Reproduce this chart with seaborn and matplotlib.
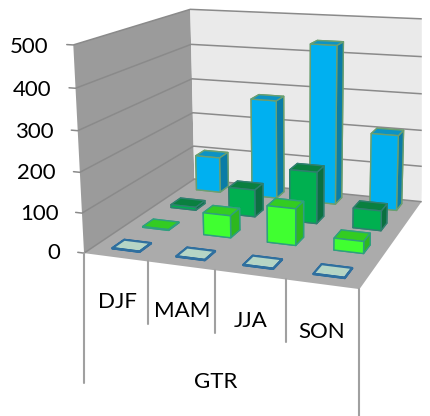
import seaborn as sns
import matplotlib
matplotlib.use("Agg")
import matplotlib.pyplot as plt
from matplotlib.lines import Line2D
from matplotlib.patches import Rectangle
from mpl_toolkits.mplot3d import proj3d
from mpl_toolkits.mplot3d.art3d import Poly3DCollection

seasons = ["DJF", "MAM", "JJA", "SON"]
group_label = "GTR"
value_ticks = [0, 100, 200, 300, 400, 500]
pale_vals = [1, 1, 1, 1]
bright_vals = [2, 57, 93, 30]
dark_vals = [8, 73, 137, 52]
blue_vals = [100, 275, 435, 205]

sns.set_theme(style="white")
plt.rcParams["font.family"] = ["Lato", "DejaVu Sans"]

fig = plt.figure(figsize=(4.30, 4.16), dpi=100)
ax = fig.add_axes([0, 0, 1, 1], projection="3d")

# camera, fitted once against the corners of the box
scale, cx, cy = 2235.2, 263.6, 130.6
ax.view_init(13.96, -69.82, 0.43)
ax.set_proj_type("persp", focal_length=0.470)
ax.set_box_aspect((1.351, 1.301, 1))
vl = ax.viewLim
side = scale * vl.width
ax.set_position([(cx + scale * vl.x0) / 430, 1 - (cy - scale * vl.y0) / 416, side / 430, side / 416])
ax.set_axis_off()
ax.patch.set_alpha(0)
ax.computed_zorder = False

def set_lims():
    ax.set_xlim(0, 4)
    ax.set_ylim(0, 4)
    ax.set_zlim(0, 500)

set_lims()

walls = [
    ([(0, 0, 0), (0, 4, 0), (0, 4, 500), (0, 0, 500)], "#9B9B9B"),
    ([(0, 4, 0), (4, 4, 0), (4, 4, 500), (0, 4, 500)], "#EAEAEA"),
    ([(0, 0, 0), (4, 0, 0), (4, 4, 0), (0, 4, 0)], "#ABABAB"),
]
for verts, col in walls:
    ax.add_collection3d(Poly3DCollection([verts], facecolor=col, edgecolor="none", zorder=1))
for v in value_ticks:
    ax.plot([-0.1, 0, 0, 4], [0, 0, 4, 4], [v] * 4, color="#8A8A8A", lw=1.1, zorder=2)

# back row first, left to right, so nearer bars paint over farther ones
series = [
    (blue_vals, ["#00B0F0", "#0C93C4", "#00B0F0", "#00B0F0", "#0A7CA6", "#0A7CA6"], "#6A9F70", 3.6, 1),
    (dark_vals, ["#00B050", "#0A8040", "#00B050", "#00B050", "#0B7040", "#0B7040"], "#2F7F6F", 2.55, 1),
    (bright_vals, ["#40FF30", "#33CC22", "#40FF30", "#40FF30", "#2EB81E", "#2EB81E"], "#2F9F7F", 1.5, 1),
    (pale_vals, ["#B5D5C5"] * 6, "#2F6F9F", 0.5, 1.5),
]
z = 3
for vals, faces, edge, row, lw in series:
    for i, h in enumerate(vals):
        ax.bar3d(i + 0.29, row - 0.19, 0, 0.43, 0.38, h, color=faces, edgecolor=edge, linewidth=lw, shade=False, zorder=z)
        z += 1
set_lims()

def to_view(x, y, v):
    xs, ys, _ = proj3d.proj_transform(x, y, v, ax.get_proj())
    return float(xs), float(ys)

def label(x, y, v, s, ha="center"):
    u, w = to_view(x, y, v)
    ax.text2D(u, w, s, transform=ax.transData, ha=ha, va="center", fontsize=16, color="black")

# category separators hang straight down from the front edge of the floor
for x, px_len in zip(range(5), [130, 63, 63, 63, 130]):
    u, w = to_view(x, 0, 0)
    ax.add_artist(Line2D([u, u], [w, w - px_len / scale], color="#A0A0A0", lw=1.5, transform=ax.transData, clip_on=False, zorder=2))

for v in value_ticks:
    label(-0.38, 0, v - 8, str(v), ha="right")
for i, name in enumerate(seasons):
    label(i + 0.5, 0, -112, name)
label(1.97, 0, -278, group_label)

fig.add_artist(Rectangle((422 / 430, 0), 8 / 430, 1, transform=fig.transFigure, color="white", zorder=20))
fig.savefig("out.png", dpi=100)
